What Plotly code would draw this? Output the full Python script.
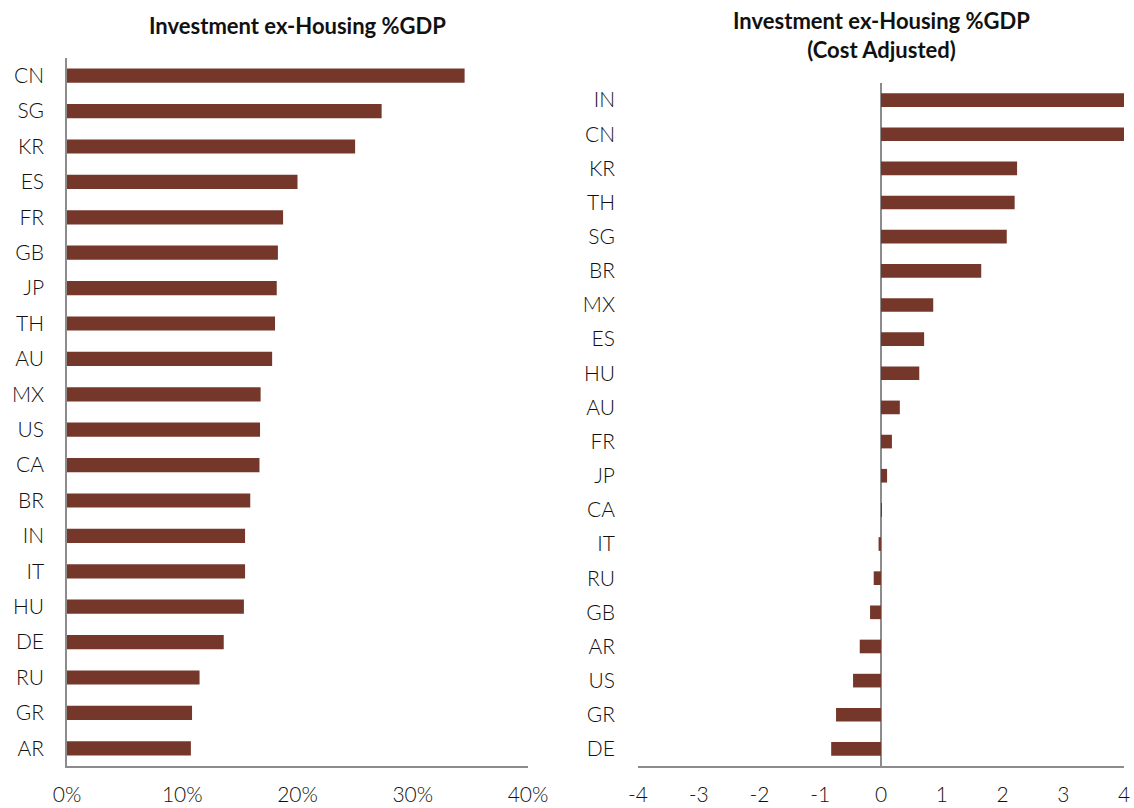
import plotly.graph_objects as go

# Left chart: Investment ex-Housing %GDP (top to bottom)
left_countries = ["CN", "SG", "KR", "ES", "FR", "GB", "JP", "TH", "AU", "MX",
                  "US", "CA", "BR", "IN", "IT", "HU", "DE", "RU", "GR", "AR"]
left_values = [0.345, 0.273, 0.250, 0.200, 0.1875, 0.183, 0.182, 0.1805, 0.178, 0.168,
               0.1675, 0.167, 0.159, 0.1545, 0.1545, 0.1535, 0.136, 0.115, 0.1085, 0.1075]
left_ticks = [0, 0.1, 0.2, 0.3, 0.4]
left_ticklabels = ["0%", "10%", "20%", "30%", "40%"]

# Right chart: Investment ex-Housing %GDP (Cost Adjusted) (top to bottom)
right_countries = ["IN", "CN", "KR", "TH", "SG", "BR", "MX", "ES", "HU", "AU",
                   "FR", "JP", "CA", "IT", "RU", "GB", "AR", "US", "GR", "DE"]
right_values = [4.0, 4.0, 2.24, 2.20, 2.07, 1.65, 0.86, 0.71, 0.63, 0.31,
                0.18, 0.10, 0.01, -0.04, -0.12, -0.18, -0.35, -0.46, -0.74, -0.82]
right_ticks = [-4, -3, -2, -1, 0, 1, 2, 3, 4]
right_ticklabels = ["-4", "-3", "-2", "-1", "0", "1", "2", "3", "4"]

left_title = "Investment ex-Housing %GDP"
right_title = "Investment ex-Housing %GDP<br>(Cost Adjusted)"

BAR = "#76372B"
AXIS = "#8C8C8C"
FONT = "Lato"
TXT = "#111111"

fig = go.Figure()
fig.add_trace(go.Bar(x=left_values, y=left_countries, orientation="h",
                     marker=dict(color=BAR, line=dict(width=0)),
                     xaxis="x", yaxis="y", showlegend=False))
fig.add_trace(go.Bar(x=right_values, y=right_countries, orientation="h",
                     marker=dict(color=BAR, line=dict(width=0)),
                     xaxis="x2", yaxis="y2", showlegend=False))

tickfont = dict(family=FONT, size=21, color=TXT, weight=300)

fig.update_layout(
    width=1134, height=808,
    margin=dict(l=0, r=0, t=0, b=0, autoexpand=False),
    paper_bgcolor="white", plot_bgcolor="white",
    bargap=0.6,
    xaxis=dict(domain=[67/1134, 528/1134], range=[0, 0.40], tickvals=left_ticks,
               ticktext=left_ticklabels, showgrid=False, zeroline=False, showline=True,
               linecolor=AXIS, linewidth=1.5, ticks="", tickfont=tickfont,
               ticklabelstandoff=9, anchor="y", automargin=False),
    yaxis=dict(domain=[1-766/808, 1-58/808], categoryorder="array",
               categoryarray=left_countries[::-1], showgrid=False, zeroline=False,
               showline=True, linecolor=AXIS, linewidth=1.5, ticks="",
               tickfont=tickfont, ticklabelstandoff=17, anchor="x", automargin=False),
    xaxis2=dict(domain=[638/1134, 1124/1134], range=[-4, 4], tickvals=right_ticks,
                ticktext=right_ticklabels,
                showgrid=False, zeroline=True, zerolinecolor=AXIS, zerolinewidth=1.5,
                showline=True, linecolor=AXIS, linewidth=1.5, ticks="",
                tickfont=tickfont, ticklabelstandoff=9, anchor="y2", automargin=False),
    yaxis2=dict(domain=[1-766/808, 1-83/808], categoryorder="array",
                categoryarray=right_countries[::-1], showgrid=False, zeroline=False,
                showline=False, ticks="", tickfont=tickfont, ticklabelstandoff=22,
                anchor="x2", automargin=False),
    annotations=[
        dict(text=left_title, x=297/1134, y=1-25/808, xref="paper", yref="paper",
             showarrow=False, xanchor="center", yanchor="middle",
             font=dict(family=FONT, size=22, color=TXT, weight="bold")),
        dict(text=right_title, x=881/1134, y=1-35/808, xref="paper", yref="paper",
             showarrow=False, xanchor="center", yanchor="middle",
             font=dict(family=FONT, size=22, color=TXT, weight="bold")),
    ],
)

fig.write_html("out.html",
               config={"displayModeBar": False},
               post_script="document.body.style.margin='0';document.body.style.overflow='hidden';")
